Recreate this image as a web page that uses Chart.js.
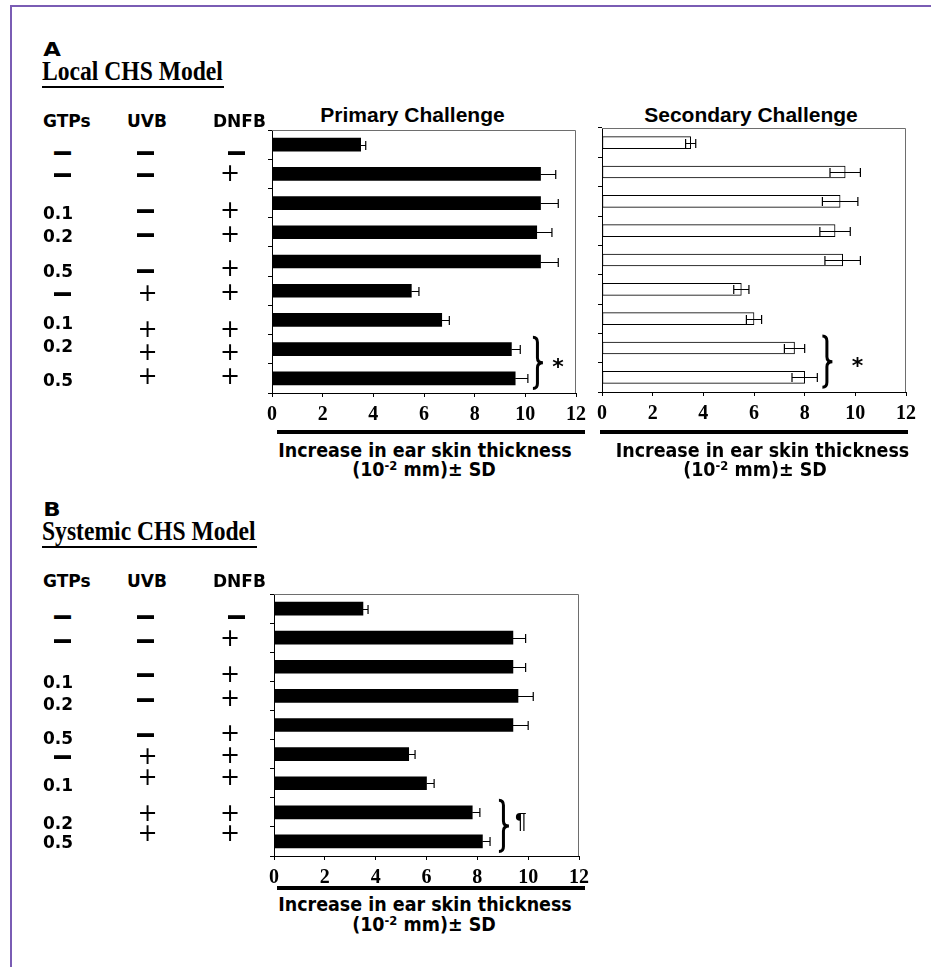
<!DOCTYPE html>
<html>
<head>
<meta charset="utf-8">
<title>CHS model – ear skin thickness</title>
<script src="https://cdn.jsdelivr.net/npm/chart.js@4.4.1/dist/chart.umd.min.js"></script>
<style>
    body { margin: 0; background: #fff; }
    #page { position: relative; width: 931px; height: 967px; overflow: hidden; background: #fff; }
    .t { position: absolute; line-height: 1; white-space: nowrap; color: #000; }
    .c { transform: translate(-50%, -50%); }
    .ct { transform: translate(-50%, -50%) scaleY(1.12); }
    .sans { font-family: "DejaVu Sans", Verdana, sans-serif; font-weight: bold; }
    .arial { font-family: "Liberation Sans", Arial, sans-serif; font-weight: bold; }
    .serif { font-family: "Liberation Serif", "Times New Roman", serif; font-weight: bold; }
    .frame { position: absolute; background: #7a5cb4; }
    .rule { position: absolute; background: #000; }
    .box { position: absolute; }
    .sup { position: relative; top: -0.45em; font-size: 0.66em; }
</style>
</head>
<body>
<div id="page">
    <div class="frame" style="left:10px; top:5px; width:2px; height:962px;"></div>
    <div class="frame" style="left:10px; top:5px; width:921px; height:2px;"></div>

    <!-- panel A headings -->
    <div class="t sans" style="left:52px; top:48.5px; font-size:19px; transform:translate(-50%,-50%) scaleX(1.2);">A</div>
    <div class="t serif" style="left:42px; top:58px; font-size:23.6px; transform:scaleY(1.15); transform-origin:0 0;">Local CHS Model</div>
    <div class="rule" style="left:42px; top:86px; width:182px; height:2px;"></div>

    <div class="t arial c" style="left:412.5px; top:113.5px; font-size:21px;">Primary Challenge</div>
    <div class="t arial c" style="left:751px; top:113.5px; font-size:21px;">Secondary Challenge</div>

    <div class="box" style="left:256px; top:120px;"><canvas id="primaryChart" width="336" height="303"></canvas></div>
    <div class="box" style="left:586px; top:118px;"><canvas id="secondaryChart" width="336" height="304"></canvas></div>

    <div class="rule" style="left:277px; top:430px; width:308px; height:4px;"></div>
    <div class="t sans ct" style="left:425px; top:450.5px; font-size:17.5px;">Increase in ear skin thickness</div>
    <div class="t sans ct" style="left:424px; top:470px; font-size:17.5px;">(10<span class="sup">-2</span> mm)± SD</div>

    <div class="rule" style="left:600px; top:430px; width:308px; height:4px;"></div>
    <div class="t sans ct" style="left:762.5px; top:450.5px; font-size:17.5px;">Increase in ear skin thickness</div>
    <div class="t sans ct" style="left:755px; top:470px; font-size:17.5px;">(10<span class="sup">-2</span> mm)± SD</div>

    <div class="t sans c" style="left:558px; top:367px; font-size:22px;">*</div>
    <div class="t sans c" style="left:857.5px; top:366px; font-size:22px;">*</div>

    <!-- panel B headings -->
    <div class="t sans" style="left:51.5px; top:509px; font-size:19px; transform:translate(-50%,-50%) scaleX(1.2);">B</div>
    <div class="t serif" style="left:42px; top:518px; font-size:23.6px; transform:scaleY(1.15); transform-origin:0 0;">Systemic CHS Model</div>
    <div class="rule" style="left:42px; top:546px; width:215px; height:2px;"></div>

    <div class="box" style="left:258px; top:584px;"><canvas id="systemicChart" width="337" height="302"></canvas></div>

    <div class="rule" style="left:277px; top:886px; width:308px; height:4px;"></div>
    <div class="t sans ct" style="left:425px; top:905px; font-size:17.5px;">Increase in ear skin thickness</div>
    <div class="t sans ct" style="left:424px; top:925px; font-size:17.5px;">(10<span class="sup">-2</span> mm)± SD</div>

    <div class="t arial c" style="left:521px; top:821px; font-size:22px; font-weight:normal;">¶</div>
</div>

<script>
// treatment groups (same order in every panel)
const gtps = ['—', '—', '0.1', '0.2', '0.5', '—', '0.1', '0.2', '0.5'];
const uvb  = ['—', '—', '—', '—', '—', '+', '+', '+', '+'];
const dnfb = ['—', '+', '+', '+', '+', '+', '+', '+', '+'];
const groups = gtps.map((g, i) => 'GTPs ' + g + ' / UVB ' + uvb[i] + ' / DNFB ' + dnfb[i]);

// ear skin thickness increase (10^-2 mm), mean and SD
const primaryMean   = [3.5, 10.6, 10.6, 10.45, 10.6, 5.5, 6.7, 9.45, 9.6];
const primarySD     = [0.2, 0.6, 0.7, 0.6, 0.7, 0.3, 0.3, 0.35, 0.5];
const secondaryMean = [3.5, 9.6, 9.4, 9.2, 9.5, 5.5, 6.0, 7.6, 8.0];
const secondarySD   = [0.2, 0.6, 0.7, 0.6, 0.7, 0.3, 0.3, 0.4, 0.5];
const systemicMean  = [3.5, 9.4, 9.4, 9.6, 9.4, 5.3, 6.0, 7.8, 8.2];
const systemicSD    = [0.2, 0.5, 0.5, 0.6, 0.6, 0.25, 0.3, 0.3, 0.3];

// x axis
const xMin = 0;
const xMax = 12;
const xStep = 2;

// row positions of the treatment table left of each chart (page px)
const tableA = {
    header: 121,
    gtpY:  [150.7, 173, 212.5, 236, 271, 292, 322.5, 345.5, 379.5],
    uvbY:  [150.7, 173, 209, 233, 269, 293, 329, 352, 376],
    dnfbY: [150.7, 173, 210, 234, 268, 292, 329, 352, 376]
};
const tableB = {
    header: 581,
    gtpY:  [615, 639, 682, 704, 738, 755, 785, 823, 842],
    uvbY:  [615, 639, 673, 698, 733, 756, 777, 813, 833],
    dnfbY: [615, 638, 674, 698, 733, 755, 777, 813, 833]
};

function addText(txt, x, y, style) {
    const el = document.createElement('div');
    el.className = 't';
    el.textContent = txt;
    el.style.cssText += 'left:' + x + 'px; top:' + y + 'px;' + style;
    document.getElementById('page').appendChild(el);
}

function addSymbol(sym, x, y) {
    if (sym === '—') {
        addText('—', x, y, 'font-family:"DejaVu Sans"; font-weight:bold; font-size:19px; transform:translate(-50%,-50%) scaleY(1.6);');
    } else {
        addText('+', x, y, 'font-family:"DejaVu Sans"; font-size:24px; transform:translate(-50%,-50%);');
    }
}

function drawTable(tbl) {
    const hs = 'font-family:"DejaVu Sans"; font-weight:bold; font-size:17px; transform:translateY(-50%);';
    addText('GTPs', 43, tbl.header, hs);
    addText('UVB', 127, tbl.header, hs);
    addText('DNFB', 213, tbl.header, hs);
    gtps.forEach((g, i) => {
        if (g === '—') addSymbol(g, 62.5, tbl.gtpY[i]);
        else addText(g, 43, tbl.gtpY[i], hs);
        addSymbol(uvb[i], uvb[i] === '—' ? 145.5 : 147.5, tbl.uvbY[i]);
        addSymbol(dnfb[i], dnfb[i] === '—' ? 236.5 : 230, tbl.dnfbY[i]);
    });
}

drawTable(tableA);
drawTable(tableB);

// frame, error bars and the bracket next to the last two groups
function extrasPlugin(sd, twoSided, braceAt) {
    return {
        id: 'extras',
        afterDatasetsDraw(chart) {
            const ctx = chart.ctx;
            const a = chart.chartArea;
            const x = chart.scales.x;
            const y = chart.scales.y;
            ctx.save();

            ctx.strokeStyle = '#6e6e6e';
            ctx.lineWidth = 1;
            ctx.beginPath();
            ctx.moveTo(a.left, a.top + 0.5);
            ctx.lineTo(a.right - 0.5, a.top + 0.5);
            ctx.lineTo(a.right - 0.5, a.bottom);
            ctx.stroke();

            ctx.strokeStyle = '#000';
            ctx.lineWidth = 1.2;
            const cap = 4.5;
            chart.data.datasets[0].data.forEach((m, i) => {
                const yc = Math.round(y.getPixelForValue(i)) + 0.5;
                const hi = x.getPixelForValue(m + sd[i]);
                const lo = twoSided ? x.getPixelForValue(m - sd[i]) : x.getPixelForValue(m);
                ctx.beginPath();
                ctx.moveTo(lo, yc);
                ctx.lineTo(hi, yc);
                ctx.moveTo(hi, yc - cap);
                ctx.lineTo(hi, yc + cap);
                if (twoSided) {
                    ctx.moveTo(lo, yc - cap);
                    ctx.lineTo(lo, yc + cap);
                }
                ctx.stroke();
            });

            // curly bracket over the last two groups
            const n = chart.data.labels.length;
            const top = y.getPixelForValue(n - 2) - 12;
            const bottom = y.getPixelForValue(n - 1) + 10;
            const mid = (top + bottom) / 2;
            const x0 = x.getPixelForValue(braceAt);
            const w = 10;
            const xm = x0 + w * 0.45;
            const r = 5;
            ctx.lineWidth = 3;
            ctx.beginPath();
            ctx.moveTo(x0, top);
            ctx.quadraticCurveTo(xm, top, xm, top + r);
            ctx.lineTo(xm, mid - r);
            ctx.quadraticCurveTo(xm, mid, x0 + w, mid);
            ctx.quadraticCurveTo(xm, mid, xm, mid + r);
            ctx.lineTo(xm, bottom - r);
            ctx.quadraticCurveTo(xm, bottom, x0, bottom);
            ctx.stroke();

            ctx.restore();
        }
    };
}

function makeChart(id, means, sd, fill, barSize, twoSided, braceAt) {
    return new Chart(document.getElementById(id), {
        type: 'bar',
        data: {
            labels: groups,
            datasets: [{
                data: means,
                backgroundColor: fill,
                borderColor: '#000',
                borderWidth: fill === '#000' ? 0 : 1,
                borderSkipped: false,
                barThickness: barSize
            }]
        },
        options: {
            indexAxis: 'y',
            responsive: false,
            animation: false,
            layout: { padding: { left: 10, right: 12, top: 10, bottom: 0 } },
            plugins: {
                legend: { display: false },
                tooltip: { enabled: false }
            },
            scales: {
                x: {
                    min: xMin,
                    max: xMax,
                    grid: { drawOnChartArea: false, color: '#000', tickLength: 4 },
                    border: { color: '#000', width: 1 },
                    ticks: {
                        stepSize: xStep,
                        padding: 6,
                        color: '#000',
                        maxRotation: 0,
                        font: { family: '"Liberation Serif", "Times New Roman", serif', weight: 'bold', size: 20 }
                    },
                    afterFit: function (scale) { scale.height = 30; }
                },
                y: {
                    grid: { drawOnChartArea: false, color: '#000', tickLength: 4, offset: true },
                    border: { color: '#000', width: 1 },
                    ticks: { display: false },
                    afterFit: function (scale) { scale.width = 6; }
                }
            }
        },
        plugins: [extrasPlugin(sd, twoSided, braceAt)]
    });
}

makeChart('primaryChart', primaryMean, primarySD, '#000', 13, false, 10.3);
makeChart('secondaryChart', secondaryMean, secondarySD, '#fff', 12, true, 8.7);
makeChart('systemicChart', systemicMean, systemicSD, '#000', 13, false, 8.85);
</script>
</body>
</html>
